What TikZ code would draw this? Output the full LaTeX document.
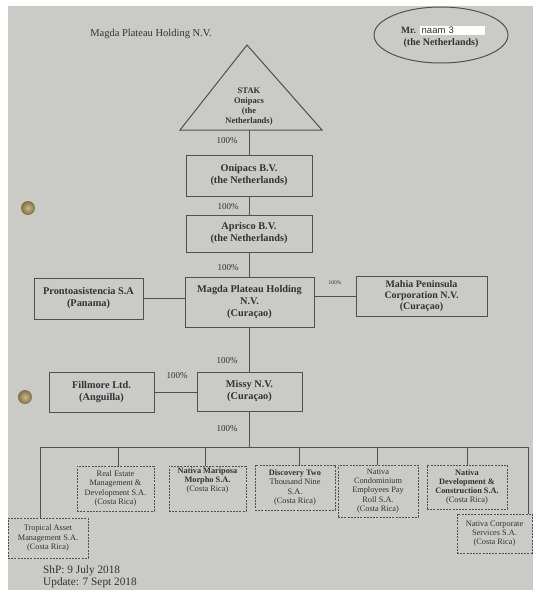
\documentclass[tikz,border=0pt]{standalone}
\usepackage{fontspec}
\setmainfont{Liberation Serif}
\newfontfamily\redfont{Liberation Sans}
\usetikzlibrary{shapes.geometric}
\definecolor{paper}{RGB}{202,202,198}
\definecolor{ink}{RGB}{50,50,55}
\definecolor{linec}{RGB}{80,80,80}
\definecolor{hole}{RGB}{130,110,65}
\definecolor{holein}{RGB}{200,185,140}
\tikzset{
 box/.style={draw=linec, line width=0.9pt, text=ink, align=center, inner sep=1pt, font=\fontsize{10.3}{12}\selectfont\bfseries},
 sbox/.style={draw=linec, line width=0.8pt, dash pattern=on 2pt off 1.2pt, text=ink, align=center, inner sep=1pt, font=\fontsize{8.3}{9.2}\selectfont},
 conn/.style={draw=linec, line width=1pt},
 pct/.style={text=ink, font=\fontsize{9}{10}\selectfont, inner sep=0pt},
 plain/.style={text=ink, inner sep=0pt, align=center},
}
\begin{document}
\begin{tikzpicture}[x=1pt,y=-1pt]
\useasboundingbox (0,0) rectangle (541,600);
\fill[white] (0,0) rectangle (541,600);
\fill[paper] (8,6) rectangle (533,590);
% hole punches
\shade[inner color=holein, outer color=hole] (28,208) circle (7);
\shade[inner color=holein, outer color=hole] (25,397) circle (7);

% title
\node[plain, font=\fontsize{10.5}{12}\selectfont] (title) at (151,34) {Magda Plateau Holding N.V.};

% Mr ellipse
\node[ellipse, draw=linec, line width=1pt, minimum width=134pt, minimum height=56pt] (mr) at (441,35) {};
\node[plain, anchor=west, font=\fontsize{9.5}{10}\selectfont\bfseries] (mrt) at (401,30) {Mr.};
\node[anchor=west, fill=white, inner sep=0pt, text width=65pt, minimum height=9pt, align=left, text=black!80, font=\redfont\fontsize{9.5}{9}\selectfont] (naam) at (420,30) {\hspace{1.5pt}naam 3};
\node[plain, font=\fontsize{10}{10}\selectfont\bfseries] (mrn) at (441,43) {(the Netherlands)};

% STAK triangle
\draw[conn] (247,45) -- (322,130) -- (180,130) -- cycle;
\coordinate (stak) at (249,130);
\node[plain, font=\fontsize{8.5}{10}\selectfont\bfseries] (staktext) at (249,107) {STAK\\Onipacs\\(the\\Netherlands)};

% main boxes
\node[box, minimum width=126pt, minimum height=41pt] (onip) at (249,175.5) {Onipacs B.V.\\(the Netherlands)};
\node[box, minimum width=126pt, minimum height=37pt] (apr) at (249,233.5) {Aprisco B.V.\\(the Netherlands)};
\node[box, minimum width=129pt, minimum height=50pt] (magda) at (249.5,302) {Magda Plateau Holding\\N.V.\\(Curaçao)};
\node[box, minimum width=109pt, minimum height=41pt] (pronto) at (88.5,298.5) {Prontoasistencia S.A\\(Panama)};
\node[box, minimum width=131pt, minimum height=40pt, font=\fontsize{10}{11}\selectfont\bfseries] (mahia) at (421.5,296) {Mahia Peninsula\\Corporation N.V.\\(Curaçao)};
\node[box, minimum width=105pt, minimum height=39pt] (missy) at (249.5,391.5) {Missy N.V.\\(Curaçao)};
\node[box, minimum width=105pt, minimum height=40pt] (fill) at (101.5,392) {Fillmore Ltd.\\(Anguilla)};

% bottom boxes
\node[sbox, minimum width=80pt, minimum height=40pt] (trop) at (48,538) {Tropical Asset\\Management S.A.\\(Costa Rica)};
\node[sbox, minimum width=77pt, minimum height=45pt] (real) at (115.5,488.5) {Real Estate\\Management \&\\Development S.A.\\(Costa Rica)};
\node[sbox, minimum width=77pt, minimum height=45pt] (mari) at (207.5,488.5) {\textbf{Nativa Mariposa}\\\textbf{Morpho S.A.}\\(Costa Rica)\\[9pt]};
\node[sbox, minimum width=80pt, minimum height=45pt] (disc) at (295,487.5) {\textbf{Discovery Two}\\Thousand Nine\\S.A.\\(Costa Rica)};
\node[sbox, minimum width=80pt, minimum height=52pt] (cond) at (378,491) {Nativa\\Condominium\\Employees Pay\\Roll S.A.\\(Costa Rica)};
\node[sbox, minimum width=80pt, minimum height=44pt] (dev) at (467,487) {\textbf{Nativa}\\\textbf{Development \&}\\\textbf{Construction S.A.}\\(Costa Rica)};
\node[sbox, minimum width=75pt, minimum height=39pt] (corp) at (494.5,533.5) {Nativa Corporate\\Services S.A.\\(Costa Rica)};

% connectors
\draw[conn] (stak) -- (onip.north);
\draw[conn] (onip.south) -- (apr.north);
\draw[conn] (apr.south) -- (apr.south |- magda.north);
\draw[conn] (pronto.east) -- (pronto.east -| magda.west);
\draw[conn] (mahia.west) -- (mahia.west -| magda.east);
\draw[conn] (magda.south) -- (magda.south |- missy.north);
\draw[conn] (fill.east) -- (fill.east -| missy.west);
\coordinate (bus) at (249,447);
\coordinate (bL) at (40,447);
\coordinate (bR) at (528,447);
\draw[conn] (missy.south) -- (missy.south |- bus);
\draw[conn] (bL) -- (bR);
\draw[conn] (bL) -- (bL |- trop.north);
\draw[conn] (bR) -- (bR |- corp.north);
\foreach \n/\x in {real/118, mari/205, disc/299, cond/377, dev/467}{
  \draw[conn] (\x,447) -- (\x,447 |- \n.north);
}

% percentages
\node[pct] (p1) at (227,141) {100\%};
\node[pct] (p2) at (228,207) {100\%};
\node[pct] (p3) at (228,268) {100\%};
\node[pct] (p4) at (227,361) {100\%};
\node[pct] (p5) at (177,376) {100\%};
\node[pct] (p6) at (227,429) {100\%};
\node[pct, font=\fontsize{5.5}{6}\selectfont] (p7) at (335,283) {100\%};

% date
\node[plain, anchor=west, align=left, font=\fontsize{11.3}{12.5}\selectfont] (date) at (43,577) {ShP: 9 July 2018\\Update: 7 Sept 2018};
\end{tikzpicture}
\end{document}
